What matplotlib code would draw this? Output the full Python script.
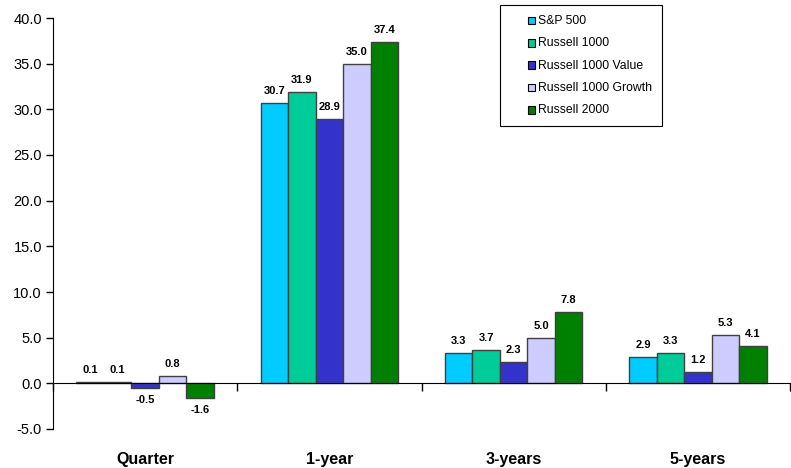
import matplotlib.pyplot as plt
import numpy as np
from matplotlib.patches import Rectangle
from matplotlib.transforms import blended_transform_factory

plt.rcParams['font.family'] = ['Liberation Sans', 'DejaVu Sans']

periods = ['Quarter', '1-year', '3-years', '5-years']
series = ['S&P 500', 'Russell 1000', 'Russell 1000 Value', 'Russell 1000 Growth', 'Russell 2000']
sp500 = [0.1, 30.7, 3.3, 2.9]
r1000 = [0.1, 31.9, 3.7, 3.3]
r1000_value = [-0.5, 28.9, 2.3, 1.2]
r1000_growth = [0.8, 35.0, 5.0, 5.3]
r2000 = [-1.6, 37.4, 7.8, 4.1]
colors = ['#00CCFF', '#00CC99', '#3333CC', '#CCCCFF', '#008000']

values = [sp500, r1000, r1000_value, r1000_growth, r2000]


class RightSquare:
    # small square key pushed to the right end of the handle box
    def legend_artist(self, legend, orig_handle, fontsize, handlebox):
        x0, y0 = handlebox.xdescent, handlebox.ydescent
        w, h = handlebox.width, handlebox.height
        s = fontsize * 0.62
        patch = Rectangle((x0 + w - s, y0 + (h - s) / 2), s, s,
                          facecolor=orig_handle.get_facecolor(), edgecolor='black',
                          linewidth=0.8, transform=handlebox.get_transform())
        handlebox.add_artist(patch)
        return patch


fig = plt.figure(figsize=(7.91, 4.68), dpi=100)
ax = fig.add_axes([53 / 791, 1 - 429 / 468, 737 / 791, 411 / 468])

x = np.arange(len(periods))
w = 0.149
bars = []
for i, (name, vals, c) in enumerate(zip(series, values, colors)):
    pos = x + (i - 2) * w
    b = ax.bar(pos, vals, w, color=c, edgecolor='#404040', linewidth=1.0, label=name)
    bars.append(b)
    for px, v in zip(pos, vals):
        if v >= 0:
            ax.annotate(f'{v:.1f}', (px, v), xytext=(0, 5), textcoords='offset points',
                        ha='center', va='bottom', fontsize=8, fontweight='bold')
        else:
            ax.annotate(f'{v:.1f}', (px, v), xytext=(0, -5), textcoords='offset points',
                        ha='center', va='top', fontsize=8, fontweight='bold')

ax.set_xlim(-0.5, len(periods) - 0.5)
ax.set_ylim(-5, 40)
yt = np.arange(-5, 40.1, 5)
ax.set_yticks(yt)
ax.set_yticklabels([f'{t:.1f}' for t in yt], fontsize=10.5)
ax.tick_params(axis='y', direction='out', length=5, width=1, pad=3)

# category axis sits at zero, with ticks between groups
ax.spines['top'].set_visible(False)
ax.spines['right'].set_visible(False)
ax.spines['bottom'].set_position(('data', 0))
ax.set_xticks(np.arange(len(periods) + 1) - 0.5)
ax.set_xticklabels([])
ax.tick_params(axis='x', direction='out', length=6, width=1)

trans = blended_transform_factory(ax.transData, ax.transAxes)
for xi, p in zip(x, periods):
    ax.text(xi, -0.075, p, transform=trans, ha='center', va='center',
            fontsize=11.5, fontweight='bold')

leg = ax.legend(handles=[b.patches[0] for b in bars], labels=series,
                handler_map={Rectangle: RightSquare()},
                loc='upper left', bbox_to_anchor=(500 / 791, 1 - 5 / 468),
                bbox_transform=fig.transFigure, fontsize=8.8, frameon=True,
                fancybox=False, edgecolor='black', framealpha=1,
                handlelength=2.1, handleheight=0.6, handletextpad=0.2,
                labelspacing=0.85, borderpad=0.8, borderaxespad=0)
leg.get_frame().set_linewidth(0.8)

plt.savefig('out.png', dpi=100)
